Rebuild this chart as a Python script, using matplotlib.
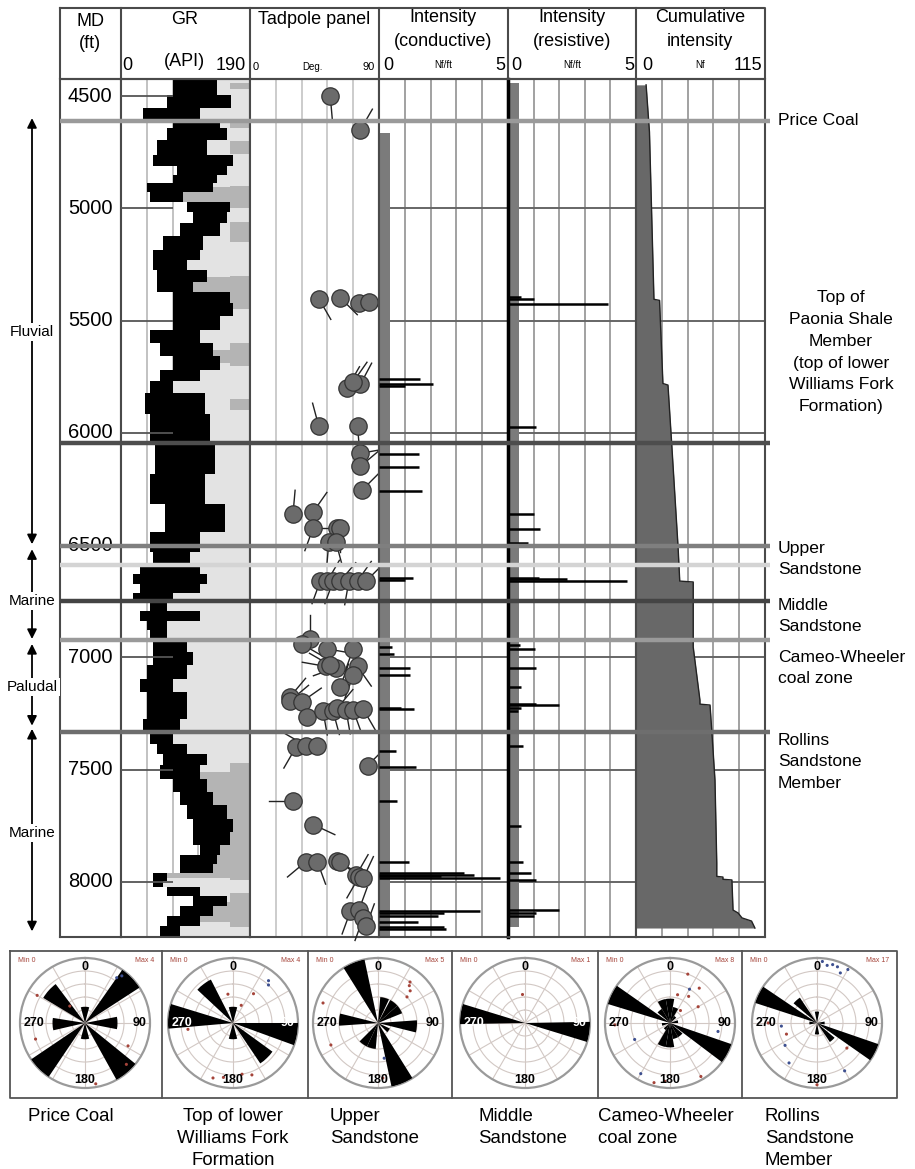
import numpy as np
import matplotlib.pyplot as plt
from matplotlib import transforms

plt.rcParams['font.family'] = ['Liberation Sans', 'DejaVu Sans']

#==========================================================================================
#     Data
#==========================================================================================

md_ticks = [4500, 5000, 5500, 6000, 6500, 7000, 7500, 8000]

# GR log: black band (low / high edge, API) at depth
gr_depth = [4424, 4473, 4518, 4584, 4620, 4664, 4727, 4798, 4829, 4873, 4904, 4949, 4993, 5038,
            5096, 5153, 5216, 5242, 5304, 5349, 5393, 5451, 5509, 5571, 5629, 5687, 5749, 5793,
            5851, 5984, 6118, 6251, 6384, 6496, 6562, 6607, 6651, 6696, 6727, 6771, 6816, 6860,
            6896, 6949, 7007, 7064, 7127, 7184, 7242, 7304, 7362, 7407, 7451, 7509, 7571, 7629,
            7687, 7749, 7807, 7864, 7896, 7940, 7984, 8007, 8042, 8087, 8131, 8176, 8220, 8245]
gr_low = [77, 77, 68, 32, 77, 68, 53, 47, 82, 77, 38, 43, 97, 106,
          87, 62, 47, 47, 53, 53, 77, 77, 77, 43, 57, 77, 57, 43,
          35, 43, 50, 43, 65, 43, 47, 28, 18, 28, 18, 43, 28, 38,
          43, 47, 47, 38, 28, 38, 38, 32, 43, 53, 62, 57, 77, 87,
          97, 106, 106, 116, 87, 87, 47, 47, 68, 106, 87, 68, 57, 57]
gr_high = [141, 141, 162, 116, 146, 156, 127, 165, 156, 141, 136, 91, 161, 156,
           146, 121, 116, 97, 127, 106, 161, 165, 146, 116, 136, 146, 116, 77,
           124, 131, 138, 124, 153, 116, 102, 116, 127, 116, 77, 68, 116, 68,
           68, 97, 106, 97, 77, 97, 97, 87, 77, 97, 127, 116, 127, 136,
           156, 165, 161, 146, 141, 136, 68, 62, 116, 156, 136, 116, 87, 87]
# darker shading zones right of the GR curve (top, bottom)
gr_dark_top = [4440, 4600, 4700, 4900, 5060, 5300, 5600, 5850, 7470, 8050]
gr_dark_bot = [4470, 4640, 4760, 5000, 5150, 5450, 5700, 5900, 7990, 8200]

# Tadpoles: depth (ft), dip (deg), dip azimuth (deg)
tad_depth = [4500, 4651, 5402, 5398, 5420, 5415, 5798, 5784, 5773, 5971, 5971, 6091, 6149, 6256,
             6362, 6353, 6424, 6424, 6424, 6487, 6487, 6660, 6660, 6660, 6660, 6660, 6660, 6660,
             6918, 6940, 6962, 6962, 7040, 7045, 7035, 7040, 7080, 7130, 7175, 7193, 7198, 7264,
             7240, 7240, 7225, 7235, 7235, 7230, 7400, 7393, 7393, 7482, 7638, 7744, 7909, 7909,
             7907, 7909, 7971, 7978, 7984, 8131, 8125, 8160, 8198]
tad_dip = [56, 77, 48, 63, 76, 83, 68, 77, 72, 48, 75, 77, 77, 78,
           30, 44, 44, 61, 63, 55, 60, 49, 54, 58, 63, 69, 75, 81,
           42, 36, 54, 72, 53, 60, 56, 75, 72, 63, 28, 28, 36, 40,
           51, 58, 61, 67, 72, 79, 32, 39, 47, 82, 30, 44, 39, 47,
           61, 63, 74, 76, 79, 70, 76, 79, 81]
tad_az = [175, 30, 150, 135, 100, 110, 30, 28, 35, 345, 175, 80, 50, 45,
          5, 35, 200, 270, 180, 185, 165, 200, 30, 200, 40, 190, 35, 45,
          0, 120, 100, 200, 280, 250, 300, 145, 200, 20, 40, 50, 55, 85,
          170, 165, 40, 170, 160, 150, 210, 300, 280, 45, 270, 115, 230, 160,
          120, 130, 30, 210, 25, 200, 20, 200, 20]

# Fracture intensity spikes (Nf/ft)
cond_depth = [5762, 5784, 5793, 6096, 6153, 6260, 6647, 6655, 6953, 6985, 7047, 7078, 7225, 7229,
              7416, 7487, 7638, 7909, 7962, 7968, 7975, 7982, 8131, 8140, 8150, 8180, 8200, 8210]
cond_val = [1.6, 2.1, 1.0, 1.55, 1.55, 1.65, 1.3, 1.0, 0.5, 0.6, 1.2, 1.2, 0.85, 1.35,
            0.65, 1.45, 0.7, 1.15, 3.3, 3.7, 2.4, 4.7, 3.9, 2.5, 2.3, 1.5, 2.5, 2.6]
res_depth = [5395, 5405, 5424, 5975, 6362, 6429, 6491, 6645, 6651, 6660, 6945, 6962, 7047, 7131,
             7207, 7214, 7225, 7240, 7393, 7749, 7909, 7958, 7993, 8125, 8140, 8150]
res_val = [0.5, 1.0, 3.9, 1.1, 1.0, 1.25, 0.8, 1.2, 2.3, 4.65, 0.45, 1.05, 1.1, 0.5,
           1.1, 2.0, 0.5, 0.4, 0.6, 0.5, 0.6, 0.9, 1.1, 2.0, 1.1, 1.0]

# Cumulative intensity (Nf)
cum_depth = [4450, 4660, 5405, 5410, 5780, 5787, 6063, 6508, 6660, 6664, 6954, 7190, 7208, 7212,
             7337, 7546, 7915, 7975, 7978, 7988, 7991, 8125, 8138, 8160, 8174, 8205]
cum_val = [9, 12, 16, 21, 24, 28.5, 32, 37.5, 39, 51, 51, 57, 57, 66,
           67.7, 70.4, 72, 72, 77.5, 77.5, 85.5, 86.5, 91, 94.5, 103, 106]

# Formation tops
form_depth = [4611, 6044, 6504, 6588, 6748, 6922, 7331]
form_color = ['#9a9a9a', '#4d4d4d', '#7f7f7f', '#d4d4d4', '#444444', '#9a9a9a', '#6e6e6e']
form_labels = ['Price Coal', 'Top of\nPaonia Shale\nMember\n(top of lower\nWilliams Fork\nFormation)',
               'Upper\nSandstone', 'Middle\nSandstone', 'Cameo-Wheeler\ncoal zone',
               'Rollins\nSandstone\nMember']
form_label_depth = [4611, 5640, 6562, 6816, 7047, 7465]

# Depositional environments
env_names = ['Fluvial', 'Marine', 'Paludal', 'Marine']
env_top = [4598, 6518, 6940, 7318]
env_bot = [6496, 6918, 7304, 8220]
env_label_depth = [5551, 6749, 7132, 7782]

# Rose diagrams: petal azimuth, count, width (deg)
rose_titles = ['Price Coal', 'Top of lower\nWilliams Fork\nFormation', 'Upper\nSandstone',
               'Middle\nSandstone', 'Cameo-Wheeler\ncoal zone', 'Rollins\nSandstone\nMember']
rose_max = [4, 4, 5, 1, 8, 17]
rose_az = [[0, 46, 90, 140, 180, 225, 268, 312],
           [0, 100, 136, 180, 276, 323],
           [338, 15, 38, 58, 95, 125, 158, 195, 215, 275],
           [98, 278],
           [296, 118, 0, 20, 40, 80, 140, 160, 180, 200, 220, 260, 320, 340],
           [296, 117, 318, 138, 0, 90, 180, 270]]
rose_count = [[1, 4, 2, 4, 1, 4, 2, 3],
              [1, 4, 3, 1, 4, 3],
              [5, 2, 2, 2, 3, 1, 5, 2, 2, 3],
              [1, 1],
              [8, 8, 3, 2, 1, 1, 2, 2, 3, 3, 1, 1, 2, 3],
              [17, 17, 8, 6, 3, 2, 3, 2]]
rose_width = [[30, 22, 22, 22, 30, 22, 22, 22],
              [30, 20, 20, 30, 22, 20],
              [20, 20, 20, 20, 18, 20, 20, 20, 20, 18],
              [18, 18],
              [18, 18, 20, 20, 20, 20, 20, 20, 20, 20, 20, 20, 20, 20],
              [16, 16, 16, 16, 22, 22, 22, 22]]
# pole dots in the roses: azimuth, radius fraction, colour flag (0 red, 1 blue)
rose_dot_az = [[35, 38, 300, 318, 252, 118, 135, 170],
               [40, 43, 350, 25, 35, 262, 170, 190, 200, 160],
               [40, 45, 48, 38, 290, 245, 170, 175],
               [355],
               [30, 40, 15, 20, 35, 60, 40, 268, 245, 210, 195, 185, 150, 100],
               [5, 10, 15, 20, 25, 30, 270, 265, 250, 235, 215, 180, 150, 130]]
rose_dot_r = [[0.85, 0.92, 0.85, 0.35, 0.8, 0.75, 0.9, 0.95],
              [0.85, 0.8, 0.45, 0.3, 0.55, 0.7, 0.8, 0.85, 0.9, 0.85],
              [0.75, 0.7, 0.6, 0.8, 0.9, 0.8, 0.55, 0.85],
              [0.45],
              [0.6, 0.7, 0.45, 0.8, 0.5, 0.5, 0.25, 0.85, 0.6, 0.9, 0.95, 0.9, 0.95, 0.75],
              [0.95, 0.9, 0.93, 0.92, 0.85, 0.95, 0.75, 0.55, 0.5, 0.6, 0.75, 0.95, 0.85, 0.6]]
rose_dot_c = [[1, 1, 0, 0, 0, 0, 0, 0],
              [1, 1, 0, 0, 0, 0, 0, 0, 0, 0],
              [0, 0, 0, 0, 0, 0, 1, 0],
              [0],
              [1, 0, 0, 0, 0, 0, 0, 0, 1, 1, 0, 0, 0, 1],
              [1, 1, 1, 1, 1, 1, 0, 1, 0, 1, 1, 0, 1, 0]]

#==========================================================================================
#     Layout (pixels of a 915 x 1169 figure)
#==========================================================================================

W, H = 915, 1169
fig = plt.figure(figsize=(9.15, 11.69), dpi=100)

def px_axes(x0, y0, x1, y1, **kw):
    return fig.add_axes([x0 / W, 1 - y1 / H, (x1 - x0) / W, (y1 - y0) / H], **kw)

D_TOP, D_BOT = 4424, 8245
LOG_Y0, LOG_Y1 = 79, 937
edges = [60, 121, 250, 379, 508, 636, 765]
frame_c = '#4a4a4a'


def track(i, xmax, grid_x, grid_c='#bdbdbd', hgrid=False):
    ax = px_axes(edges[i], LOG_Y0, edges[i + 1], LOG_Y1)
    ax.set_xlim(0, xmax)
    ax.set_ylim(D_BOT, D_TOP)
    ax.set_xticks([])
    ax.set_yticks([])
    for s in ax.spines.values():
        s.set_color(frame_c)
        s.set_linewidth(1.5)
    for g in grid_x:
        ax.axvline(g, color=grid_c, lw=1.3, zorder=0.5)
    if hgrid:
        for d in md_ticks[1:]:
            ax.axhline(d, color='#666666', lw=1.4, zorder=0.6)
    return ax


# MD track
ax_md = track(0, 1, [])
blend = transforms.blended_transform_factory(ax_md.transAxes, ax_md.transData)
for d in md_ticks:
    ax_md.text(0.86, d, str(d), transform=blend, ha='right', va='center', fontsize=14.5)

# GR track
ax_gr = track(1, 190, [38, 76, 114, 152])
ax_gr.fill_betweenx(gr_depth, gr_high, 190, step='mid', color='#e3e3e3', lw=0, zorder=1)
gd = np.array(gr_depth)
gh = np.array(gr_high)
for t, b in zip(gr_dark_top, gr_dark_bot):
    ax_gr.fill_betweenx(gd, gh, 190, where=(gd >= t) & (gd <= b), step='mid',
                        color='#b4b4b4', lw=0, zorder=1.1)
    ax_gr.fill_betweenx([t, b], 160, 190, color='#b4b4b4', lw=0, zorder=1.05)
ax_gr.fill_betweenx(gr_depth, gr_low, gr_high, step='mid', color='black', lw=0, zorder=2)
ax_gr.hlines(md_ticks, 0, 76, color='#555555', lw=1.3, zorder=3)

# Tadpole track
ax_tp = track(2, 90, [18, 36, 54, 72], grid_c='#c8c8c8')
for d, dip, az in zip(tad_depth, tad_dip, tad_az):
    p = ax_tp.transData.transform((dip, d))
    q = p + 24 * np.array([np.sin(np.radians(az)), np.cos(np.radians(az))])
    q = ax_tp.transData.inverted().transform(q)
    ax_tp.plot([dip, q[0]], [d, q[1]], color='#222222', lw=1.0, zorder=3, clip_on=False)
ax_tp.plot(tad_dip, tad_depth, 'o', ms=12.5, mfc='#6b6b6b', mec='#333333', mew=0.9, zorder=4,
           clip_on=False)

# Conductive intensity
ax_c = track(3, 5, [1, 2, 3, 4], grid_c='#9a9a9a', hgrid=True)
ax_c.fill_betweenx([4665, D_BOT], 0, 0.42, color='#7b7b7b', lw=0, zorder=1)
ax_c.hlines(cond_depth, 0, cond_val, color='black', lw=1.8, zorder=3)

# Resistive intensity
ax_r = track(4, 5, [1, 2, 3, 4], grid_c='#9a9a9a', hgrid=True)
ax_r.fill_betweenx([4440, 8200], 0, 0.43, color='#7b7b7b', lw=0, zorder=1)
ax_r.hlines(res_depth, 0, res_val, color='black', lw=1.8, zorder=3)
ax_r.spines['left'].set_color('black')
ax_r.spines['left'].set_linewidth(2.5)

# Cumulative intensity
ax_cu = track(5, 115, [23, 46, 69, 92], grid_c='#9a9a9a', hgrid=True)
ax_cu.fill_betweenx(cum_depth, 0, cum_val, color='#686868', lw=0, zorder=2)
ax_cu.plot(cum_val, cum_depth, color='#222222', lw=1.0, zorder=2.5)

# Formation tops across all tracks
ax_f = px_axes(60, LOG_Y0, 770, LOG_Y1)
ax_f.set_ylim(D_BOT, D_TOP)
ax_f.set_xlim(0, 1)
ax_f.axis('off')
for d, c in zip(form_depth, form_color):
    ax_f.axhline(d, color=c, lw=3.2)

# Formation labels on the right
ax_lab = px_axes(765, LOG_Y0, W, LOG_Y1)
ax_lab.set_ylim(D_BOT, D_TOP)
ax_lab.set_xlim(765, W)
ax_lab.axis('off')
for i, (t, d) in enumerate(zip(form_labels, form_label_depth)):
    if i == 1:
        ax_lab.text(841, d, t, ha='center', va='center', fontsize=12.6, linespacing=1.58,
                    multialignment='center')
    else:
        ax_lab.text(778, d, t, ha='left', va='center', fontsize=12.6, linespacing=1.52)

# Environments on the left
ax_env = px_axes(0, LOG_Y0, 60, LOG_Y1)
ax_env.set_ylim(D_BOT, D_TOP)
ax_env.set_xlim(0, 60)
ax_env.axis('off')
for name, t, b, ld in zip(env_names, env_top, env_bot, env_label_depth):
    ax_env.annotate('', xy=(32, t), xytext=(32, b),
                    arrowprops=dict(arrowstyle='<|-|>', color='black', lw=1.3,
                                    mutation_scale=14, shrinkA=0, shrinkB=0))
    ax_env.text(32, ld, name, ha='center', va='center', fontsize=11,
                bbox=dict(fc='white', ec='none', pad=1.5))

# Header and rose box frame in pixel coordinates
ov = px_axes(0, 0, W, H)
ov.set_xlim(0, W)
ov.set_ylim(H, 0)
ov.axis('off')
ov.plot([60, 765, 765, 60, 60], [8, 8, 79, 79, 8], color=frame_c, lw=1.5)
for x in edges[1:-1]:
    ov.plot([x, x], [8, 79], color=frame_c, lw=1.5)

hdr = [('MD', 90, 21), ('(ft)', 90, 44), ('GR', 185, 20), ('Tadpole panel', 314, 20),
       ('Intensity', 443, 18), ('(conductive)', 443, 41), ('Intensity', 572, 18),
       ('(resistive)', 572, 41), ('Cumulative', 700, 18), ('intensity', 700, 41)]
for t, x, y in hdr:
    ov.text(x, y, t, ha='center', va='center', fontsize=13)
scale_txt = [('0', 127, 66, 13), ('(API)', 184, 62, 13), ('190', 231, 66, 13),
             ('0', 256, 67, 8), ('Deg.', 312, 67, 7), ('90', 369, 67, 8),
             ('0', 388, 66, 13), ('Nf/ft', 443, 65, 7), ('5', 500, 66, 13),
             ('0', 516, 66, 13), ('Nf/ft', 572, 65, 7), ('5', 629, 66, 13),
             ('0', 647, 66, 13), ('Nf', 700, 65, 7), ('115', 748, 66, 13)]
for t, x, y, fs in scale_txt:
    ov.text(x, y, t, ha='center', va='center', fontsize=fs)

# Rose diagrams
box_edges = [10, 162, 308, 452, 598, 742, 897]
ov.plot([10, 897, 897, 10, 10], [951, 951, 1098, 1098, 951], color='#555555', lw=1.3)
for x in box_edges[1:-1]:
    ov.plot([x, x], [951, 1098], color='#555555', lw=1.3)
rose_cx = [85, 233, 378, 525, 670, 817]
rose_cy = 1023
R = 65
for i in range(6):
    cx = rose_cx[i]
    ax = px_axes(cx - R, rose_cy - R, cx + R, rose_cy + R, projection='polar')
    ax.set_theta_zero_location('N')
    ax.set_theta_direction(-1)
    ax.set_ylim(0, 1)
    ax.set_yticks([0.2, 0.4, 0.6, 0.8])
    ax.set_yticklabels([])
    ax.set_xticks(np.radians(np.arange(0, 360, 30)))
    ax.set_xticklabels([])
    ax.grid(color='#d2c8c4', lw=0.8)
    ax.spines['polar'].set_color('#9a9a9a')
    ax.spines['polar'].set_linewidth(1.6)
    r = np.array(rose_count[i]) / rose_max[i]
    ax.bar(np.radians(rose_az[i]), r, width=np.radians(rose_width[i]), bottom=0,
           color='black', lw=0, zorder=3)
    cols = ['#a5443a' if c == 0 else '#3d4f8f' for c in rose_dot_c[i]]
    ax.scatter(np.radians(rose_dot_az[i]), rose_dot_r[i], s=5, c=cols, zorder=4, lw=0)

    # label colour: white where a long petal lies under the label
    def lab_col(a):
        for az, rr, w in zip(rose_az[i], r, rose_width[i]):
            if abs((a - az + 180) % 360 - 180) <= w / 2 and rr > 0.75:
                return 'white'
        return 'black'
    ax.text(0.5, 0.93, '0', transform=ax.transAxes, ha='center', va='center', fontsize=9,
            fontweight='bold', color=lab_col(0), zorder=5)
    ax.text(0.97, 0.5, '90', transform=ax.transAxes, ha='right', va='center', fontsize=9,
            fontweight='bold', color=lab_col(90), zorder=5)
    ax.text(0.5, 0.06, '180', transform=ax.transAxes, ha='center', va='center', fontsize=9,
            fontweight='bold', color=lab_col(180), zorder=5)
    ax.text(0.03, 0.5, '270', transform=ax.transAxes, ha='left', va='center', fontsize=9,
            fontweight='bold', color=lab_col(272), zorder=5)
    ov.text(box_edges[i] + 8, 960, 'Min 0', fontsize=5, color='#a5443a', va='center')
    ov.text(box_edges[i + 1] - 8, 960, 'Max %d' % rose_max[i], fontsize=5, color='#a5443a',
            va='center', ha='right')

title_x = [71, 233, 330, 478, 598, 765]
for i, t in enumerate(rose_titles):
    if i < 2:
        ov.text(title_x[i], 1108, t, ha='center', va='top', fontsize=13.4, linespacing=1.4,
                multialignment='center')
    else:
        ov.text(title_x[i], 1108, t, ha='left', va='top', fontsize=13.4, linespacing=1.4)

fig.savefig('out.png', dpi=100)
